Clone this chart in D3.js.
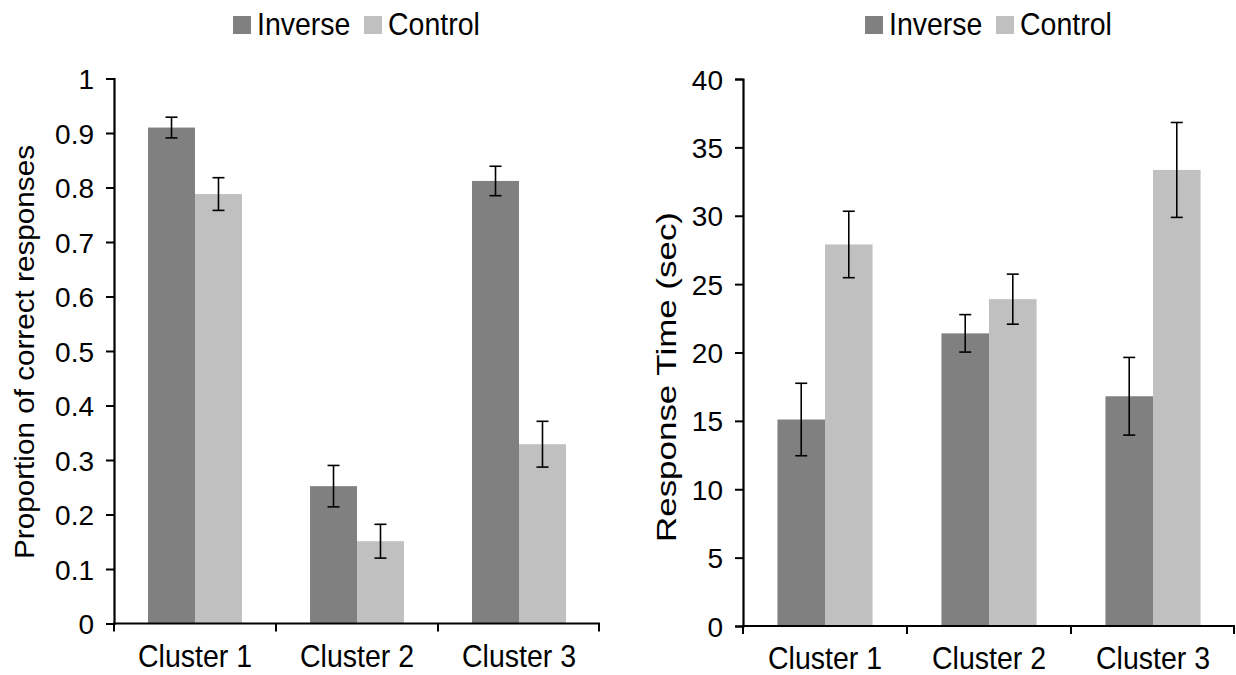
<!DOCTYPE html>
<html>
<head>
<meta charset="utf-8">
<script src="https://cdn.jsdelivr.net/npm/d3@7"></script>
<style>
  body { margin: 0; background: #fff; }
  text { font-family: "Liberation Sans", Arial, sans-serif; fill: #000; }
</style>
</head>
<body>
<div id="chart"></div>
<script>
var categories = ["Cluster 1", "Cluster 2", "Cluster 3"];
var series = ["Inverse", "Control"];

// proportion correct (left panel)
var accInverse = [0.910, 0.252, 0.812];
var accInverseErr = [0.019, 0.038, 0.027];
var accControl = [0.788, 0.151, 0.329];
var accControlErr = [0.030, 0.031, 0.042];
var accTicks = [0, 0.1, 0.2, 0.3, 0.4, 0.5, 0.6, 0.7, 0.8, 0.9, 1];

// response time (right panel)
var rtInverse = [15.1, 21.4, 16.8];
var rtInverseErr = [2.65, 1.37, 2.84];
var rtControl = [27.9, 23.9, 33.35];
var rtControlErr = [2.43, 1.83, 3.47];
var rtTicks = [0, 5, 10, 15, 20, 25, 30, 35, 40];

var color = d3.scaleOrdinal().domain(series).range(["#808080", "#c0c0c0"]);

var FS = "28.5px"
var STRETCH = 1.08   // the source picture is a bit taller than plain Arial

var svg = d3.select("#chart").append("svg")
    .attr("width", 1236)
    .attr("height", 675)

function panel(p) {
    var g = svg.append("g")
    var x0 = d3.scaleBand().domain(categories).range([p.x0, p.x1])
    var x1 = d3.scaleBand().domain(series)
        .range([x0.bandwidth() * 0.21, x0.bandwidth() * 0.79])
    var y = d3.scaleLinear().domain(p.domain).range([p.y0, p.y1])

    var rows = categories.map(function(c, i) {
        return [
            {cat: c, s: "Inverse", v: p.inv[i], e: p.invErr[i]},
            {cat: c, s: "Control", v: p.ctl[i], e: p.ctlErr[i]}
        ]
    })
    var bars = [].concat.apply([], rows)

    g.selectAll("rect.bar")
        .data(bars)
        .enter()
        .append("rect")
        .attr("class", "bar")
        .attr("x", function(d) { return x0(d.cat) + x1(d.s) })
        .attr("y", function(d) { return y(d.v) })
        .attr("width", x1.bandwidth())
        .attr("height", function(d) { return y(0) - y(d.v) })
        .style("fill", function(d) { return color(d.s) })

    // error bars
    var eb = g.selectAll("g.err")
        .data(bars)
        .enter()
        .append("g")
        .attr("transform", function(d) { return "translate(" + (x0(d.cat) + x1(d.s) + x1.bandwidth() / 2) + ",0)" })
        .style("stroke", "#000")
        .style("stroke-width", 1.6)
    eb.append("line")
        .attr("y1", function(d) { return y(d.v + d.e) })
        .attr("y2", function(d) { return y(d.v - d.e) })
    eb.append("line").attr("x1", -6).attr("x2", 6)
        .attr("y1", function(d) { return y(d.v + d.e) })
        .attr("y2", function(d) { return y(d.v + d.e) })
    eb.append("line").attr("x1", -6).attr("x2", 6)
        .attr("y1", function(d) { return y(d.v - d.e) })
        .attr("y2", function(d) { return y(d.v - d.e) })

    // y axis
    var ya = g.append("g")
        .attr("transform", "translate(" + p.x0 + ",0)")
        .call(d3.axisLeft(y).tickValues(p.ticks).tickSizeOuter(0).tickSize(8).tickPadding(12)
            .tickFormat(function(d) { return String(d) }))
    ya.select(".domain").style("stroke-width", 2.2)
    ya.selectAll(".tick line").style("stroke-width", 2)
    ya.selectAll(".tick text").style("font-size", "28px").attr("dy", "0.36em")

    // x axis: ticks at band boundaries
    var xa = g.append("g")
    xa.append("line")
        .attr("x1", p.x0 - 1).attr("x2", p.x1)
        .attr("y1", y(0)).attr("y2", y(0))
        .style("stroke", "#000").style("stroke-width", 2.2)
    var bounds = categories.map(function(c) { return x0(c) }).concat([p.x1 - 1])
    xa.selectAll("line.xt")
        .data(bounds)
        .enter()
        .append("line")
        .attr("class", "xt")
        .attr("x1", function(d) { return d }).attr("x2", function(d) { return d })
        .attr("y1", y(0)).attr("y2", y(0) + 8)
        .style("stroke", "#000").style("stroke-width", 2)
    xa.selectAll("text")
        .data(categories)
        .enter()
        .append("text")
        .attr("transform", function(d) {
            return "translate(" + (x0(d) + x0.bandwidth() / 2) + "," + (y(0) + 43) + ") scale(1," + STRETCH + ")"
        })
        .attr("text-anchor", "middle")
        .style("font-size", FS)
        .text(function(d) { return d })

    // y title
    g.append("text")
        .attr("transform", "translate(" + p.titleX + "," + p.titleY + ") rotate(-90)")
        .attr("text-anchor", "middle")
        .attr("textLength", p.titleLen)
        .attr("lengthAdjust", "spacingAndGlyphs")
        .style("font-size", "28px")
        .text(p.title)

    // legend
    var lg = g.append("g").attr("transform", "translate(" + p.legX + ",16)")
    var lx = [0, 131]
    lg.selectAll("rect")
        .data(series)
        .enter()
        .append("rect")
        .attr("x", function(d, i) { return lx[i] })
        .attr("y", 0)
        .attr("width", 18)
        .attr("height", 18)
        .style("fill", function(d) { return color(d) })
    lg.selectAll("text")
        .data(series)
        .enter()
        .append("text")
        .attr("transform", function(d, i) { return "translate(" + (lx[i] + 24) + ",18.5) scale(1," + STRETCH + ")" })
        .style("font-size", FS)
        .text(function(d) { return d })
}

panel({
    x0: 114, x1: 600, y0: 623.5, y1: 78.5, domain: [0, 1],
    ticks: accTicks, inv: accInverse, invErr: accInverseErr, ctl: accControl, ctlErr: accControlErr,
    title: "Proportion of correct responses", titleX: 34, titleY: 352, titleLen: 414, legX: 233
})
panel({
    x0: 743, x1: 1235, y0: 626, y1: 79, domain: [0, 40],
    ticks: rtTicks, inv: rtInverse, invErr: rtInverseErr, ctl: rtControl, ctlErr: rtControlErr,
    title: "Response Time (sec)", titleX: 676, titleY: 377, titleLen: 330, legX: 865
})
</script>
</body>
</html>
